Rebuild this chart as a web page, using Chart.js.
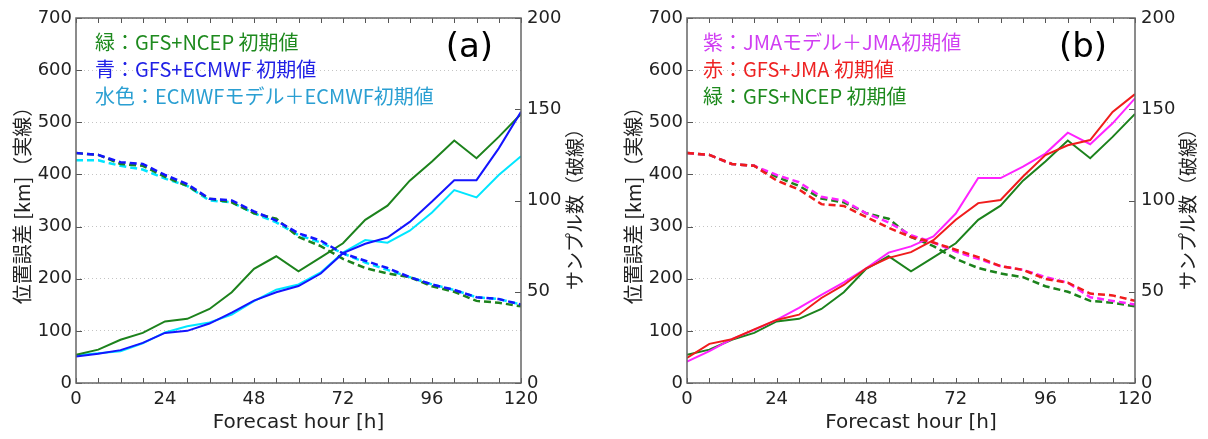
<!DOCTYPE html>
<html>
<head>
<meta charset="utf-8">
<script src="https://cdn.jsdelivr.net/npm/chart.js@4.4.0/dist/chart.umd.min.js"></script>
<style>
    html, body { margin: 0; padding: 0; background: #fff; }
    #wrap { position: relative; width: 1208px; height: 439px; }
    .panel { position: absolute; top: 0; width: 604px; height: 439px; }
</style>
</head>
<body>
<div id="wrap">
    <div class="panel" style="left:0"><canvas id="chartA"></canvas></div>
    <div class="panel" style="left:604px"><canvas id="chartB"></canvas></div>
</div>
<script>
// forecast hours (x), every 6 h
const hours = [0, 6, 12, 18, 24, 30, 36, 42, 48, 54, 60, 66, 72, 78, 84, 90, 96, 102, 108, 114, 120];
const xTickLabels = [0, 24, 48, 72, 96, 120];

// position error [km] (solid lines, left axis)
const errGreen   = [54, 64, 83, 96, 118, 123, 142, 174, 219, 243, 214, 241, 268, 313, 340, 388, 425, 465, 431, 472, 516];
const errBlue    = [51, 56, 63, 77, 96, 100, 114, 135, 158, 174, 186, 210, 249, 267, 279, 309, 348, 389, 389, 450, 520];
const errCyan    = [53, 57, 61, 76, 97, 109, 116, 131, 157, 179, 189, 212, 250, 274, 269, 292, 327, 370, 356, 399, 435];
const errMagenta = [41, 61, 84, 102, 121, 144, 169, 193, 220, 250, 262, 281, 325, 393, 393, 415, 440, 480, 458, 498, 546];
const errRed     = [48, 75, 84, 103, 121, 131, 163, 188, 220, 240, 251, 274, 313, 345, 351, 396, 437, 456, 466, 520, 554];

// sample counts (dashed lines, right axis)
const cntGreen   = [126, 125, 120, 119, 113, 108, 101, 99, 93, 90, 80, 75, 68, 63, 60, 58, 53, 50, 45, 44, 42];
const cntBlue    = [126, 125, 121, 120, 114, 109, 101, 100, 94, 89, 82, 78, 71, 67, 63, 58, 54, 51, 47, 46, 43];
const cntCyan    = [122, 122, 119, 117, 112, 108, 100, 99, 93, 88, 81, 77, 71, 66, 62, 58, 54, 51, 47, 46, 43];
const cntMagenta = [126, 125, 120, 119, 114, 110, 102, 100, 93, 88, 81, 77, 72, 68, 64, 62, 58, 55, 47, 45, 43];
const cntRed     = [126, 125, 120, 119, 111, 106, 98, 97, 91, 85, 80, 77, 73, 69, 64, 62, 57, 55, 49, 48, 45];

const GREEN = '#1c821c';
const BLUE = '#1414ff';
const CYAN = '#00e6ff';
const MAGENTA = '#ff22ff';
const RED = '#f01c1c';

const TICK_FONT = { family: 'DejaVu Sans', size: 18 };
const TEXT = '#222';

function toXY(values) {
    return values.map((v, i) => ({ x: hours[i], y: v }));
}

function solid(label, values, color) {
    return { label, data: toXY(values), borderColor: color, borderWidth: 2, yAxisID: 'y' };
}

function dashed(label, values, color) {
    return { label, data: toXY(values), borderColor: color, borderWidth: 2.5, borderDash: [7, 4], yAxisID: 'y1' };
}

// frame, inward tick marks, in-plot legend text, panel tag and right axis title
const panelDecor = {
    id: 'panelDecor',
    afterDatasetsDraw(chart, args, opts) {
        const { ctx, chartArea: a, scales } = chart;
        ctx.save();

        ctx.strokeStyle = '#555';
        ctx.lineWidth = 1;
        ctx.beginPath();
        hours.forEach(h => {
            const x = Math.round(scales.x.getPixelForValue(h)) + 0.5;
            ctx.moveTo(x, a.bottom); ctx.lineTo(x, a.bottom - 5);
            ctx.moveTo(x, a.top); ctx.lineTo(x, a.top + 5);
        });
        scales.y.ticks.forEach(t => {
            const y = Math.round(scales.y.getPixelForValue(t.value)) + 0.5;
            ctx.moveTo(a.left, y); ctx.lineTo(a.left + 6, y);
        });
        scales.y1.ticks.forEach(t => {
            const y = Math.round(scales.y1.getPixelForValue(t.value)) + 0.5;
            ctx.moveTo(a.right, y); ctx.lineTo(a.right - 6, y);
        });
        ctx.stroke();

        ctx.strokeStyle = '#666';
        ctx.lineWidth = 1.5;
        ctx.strokeRect(a.left, a.top, a.right - a.left, a.bottom - a.top);

        ctx.font = '20px "Noto Sans CJK JP"';
        ctx.textAlign = 'left';
        ctx.textBaseline = 'middle';
        opts.lines.forEach((line, i) => {
            ctx.fillStyle = line.color;
            ctx.fillText(line.text, a.left + opts.textLeft, a.top + 24 + i * 27);
        });

        ctx.fillStyle = '#000';
        ctx.font = '34px "DejaVu Sans"';
        ctx.textAlign = 'right';
        ctx.fillText(opts.tag, a.right - 28, a.top + 30);

        ctx.fillStyle = TEXT;
        ctx.font = '19px "Noto Sans CJK JP"';
        ctx.textAlign = 'center';
        ctx.translate(a.right + opts.rightTitleOffset, (a.top + a.bottom) / 2 + 4);
        ctx.rotate(-Math.PI / 2);
        ctx.fillText('サンプル数（破線）', 0, 0);

        ctx.restore();
    }
};

function makeConfig(datasets, decor, leftWidth, rightWidth, leftTitlePad) {
    return {
        type: 'line',
        data: { datasets },
        plugins: [panelDecor],
        options: {
            responsive: true,
            maintainAspectRatio: false,
            animation: false,
            layout: { padding: { top: 18, left: 0, right: 0, bottom: 0 } },
            elements: { point: { radius: 0 }, line: { tension: 0, fill: false } },
            plugins: {
                legend: { display: false },
                tooltip: { enabled: false },
                panelDecor: decor
            },
            scales: {
                x: {
                    type: 'linear',
                    min: 0,
                    max: 120,
                    afterBuildTicks: s => { s.ticks = xTickLabels.map(v => ({ value: v })); },
                    ticks: { font: TICK_FONT, color: TEXT, padding: 6, maxRotation: 0, autoSkip: false },
                    grid: { display: false, drawTicks: false },
                    border: { display: false },
                    title: {
                        display: true,
                        text: 'Forecast hour [h]',
                        font: { family: 'DejaVu Sans', size: 20 },
                        color: TEXT,
                        padding: { top: 0, bottom: 4 }
                    },
                    afterFit: s => { s.height = 56; }
                },
                y: {
                    position: 'left',
                    min: 0,
                    max: 700,
                    ticks: { stepSize: 100, font: TICK_FONT, color: TEXT, padding: 4 },
                    grid: { color: '#c4c4c4', lineWidth: 1, drawTicks: false },
                    border: { display: false, dash: [1, 3] },
                    title: {
                        display: true,
                        text: '位置誤差 [km]（実線）',
                        font: { family: 'Noto Sans CJK JP', size: 20 },
                        color: TEXT,
                        padding: { top: leftTitlePad, bottom: 0 }
                    },
                    afterFit: s => { s.width = leftWidth; }
                },
                y1: {
                    position: 'right',
                    min: 0,
                    max: 200,
                    ticks: { stepSize: 50, font: TICK_FONT, color: TEXT, padding: 6 },
                    grid: { display: false, drawTicks: false },
                    border: { display: false },
                    afterFit: s => { s.width = rightWidth; }
                }
            }
        }
    };
}

new Chart(document.getElementById('chartA'), makeConfig(
    [
        solid('青：GFS+ECMWF 初期値', errBlue, BLUE),
        dashed('青 サンプル数', cntBlue, BLUE),
        solid('緑：GFS+NCEP 初期値', errGreen, GREEN),
        dashed('緑 サンプル数', cntGreen, GREEN),
        solid('水色：ECMWFモデル＋ECMWF初期値', errCyan, CYAN),
        dashed('水色 サンプル数', cntCyan, CYAN)
    ],
    {
        tag: '(a)',
        textLeft: 19,
        rightTitleOffset: 54,
        lines: [
            { text: '緑：GFS+NCEP 初期値', color: '#1e8a1e' },
            { text: '青：GFS+ECMWF 初期値', color: '#2020e6' },
            { text: '水色：ECMWFモデル＋ECMWF初期値', color: '#2a9fd2' }
        ]
    },
    76, 83, 10
));

new Chart(document.getElementById('chartB'), makeConfig(
    [
        solid('赤：GFS+JMA 初期値', errRed, RED),
        dashed('赤 サンプル数', cntRed, RED),
        solid('紫：JMAモデル＋JMA初期値', errMagenta, MAGENTA),
        dashed('紫 サンプル数', cntMagenta, MAGENTA),
        solid('緑：GFS+NCEP 初期値', errGreen, GREEN),
        dashed('緑 サンプル数', cntGreen, GREEN)
    ],
    {
        tag: '(b)',
        textLeft: 16,
        rightTitleOffset: 53,
        lines: [
            { text: '紫：JMAモデル＋JMA初期値', color: '#d03ef2' },
            { text: '赤：GFS+JMA 初期値', color: '#ee2222' },
            { text: '緑：GFS+NCEP 初期値', color: '#1e8a1e' }
        ]
    },
    83, 73, 17
));
</script>
</body>
</html>
